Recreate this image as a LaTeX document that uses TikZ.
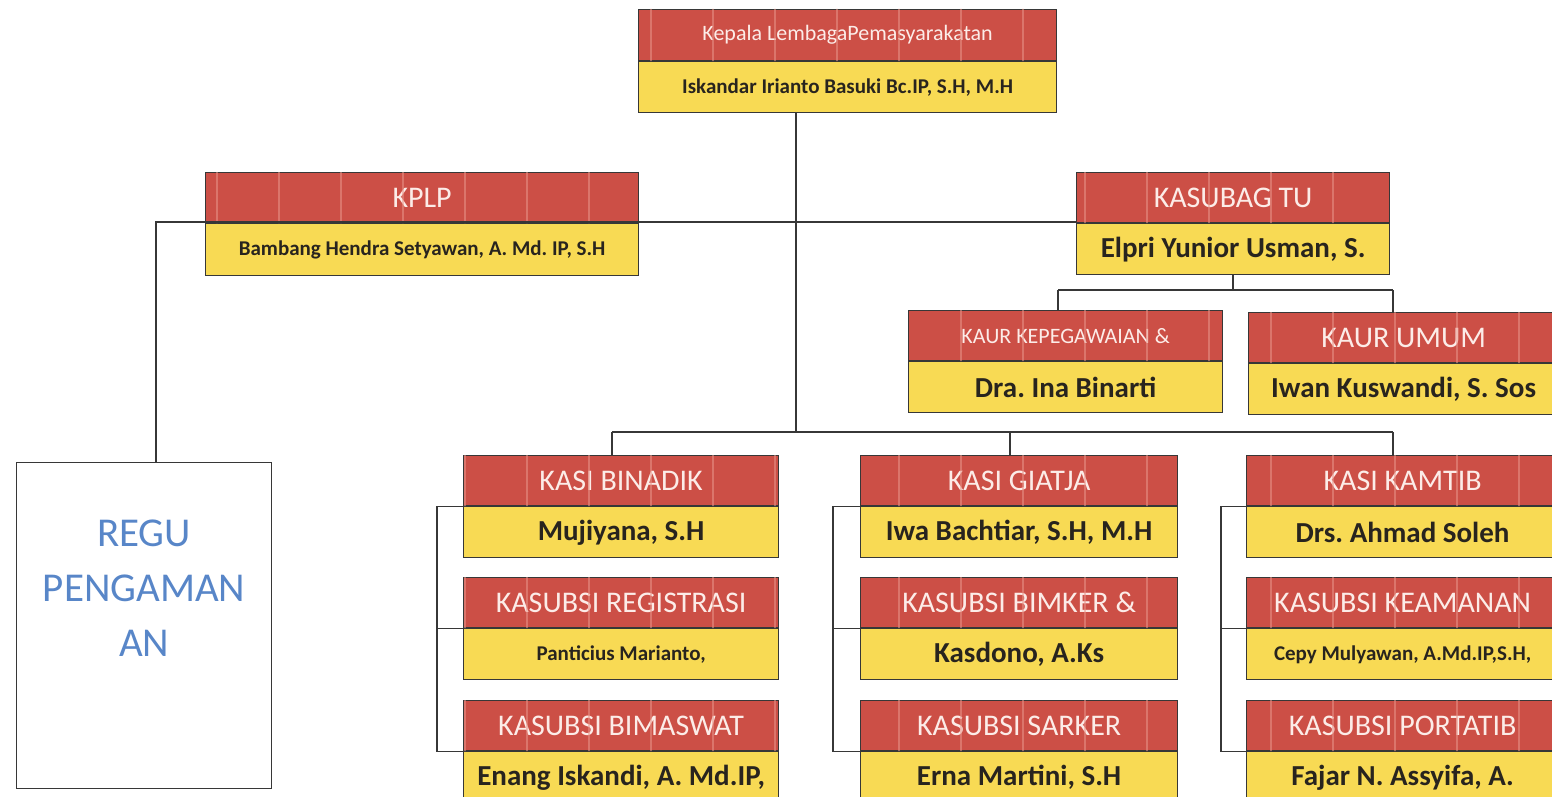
\documentclass[tikz,border=0pt]{standalone}
\usepackage{fontspec}
\setmainfont{Carlito}
\usepackage{tikz}
\frenchspacing

\definecolor{hdrred}{RGB}{204,79,70}
\definecolor{nmyellow}{RGB}{248,218,84}
\definecolor{hdrtext}{RGB}{252,236,232}
\definecolor{nmtext}{RGB}{40,36,30}
\definecolor{linegray}{RGB}{55,55,55}
\definecolor{stripecol}{RGB}{232,150,138}
\definecolor{regublue}{RGB}{88,134,200}

\tikzset{
  hdr/.style={draw=linegray, line width=1.2pt, fill=hdrred, text=hdrtext, anchor=north west,
    minimum height=50pt, inner sep=0pt, font=\fontsize{30}{32}\selectfont},
  hdrsmall/.style={hdr, font=\fontsize{22}{24}\selectfont},
  nm/.style={draw=linegray, line width=1.2pt, fill=nmyellow, text=nmtext, anchor=north west,
    minimum height=51pt, inner sep=0pt, font=\bfseries\fontsize{29}{31}\selectfont},
  nmsmall/.style={nm, font=\bfseries\fontsize{21}{23}\selectfont},
  link/.style={draw=linegray, line width=1.3pt},
}

\begin{document}
\begin{tikzpicture}[x=1pt, y=-1pt]

\useasboundingbox (0,0) rectangle (1552,797);
\clip (0,0) rectangle (1552,797);

%% Kepala Lapas

\node[hdrsmall, minimum width=418pt, minimum height=51pt] (kalapas-h) at (638,9) {Kepala LembagaPemasyarakatan};
\node[nmsmall, minimum width=418pt] (kalapas-n) at (kalapas-h.south west) {Iskandar Irianto Basuki Bc.IP, S.H, M.H};

%% KPLP

\node[hdr, minimum width=433pt] (kplp-h) at (205,172) {KPLP};
\node[nmsmall, minimum width=433pt, minimum height=52pt] (kplp-n) at (kplp-h.south west) {Bambang Hendra Setyawan, A. Md. IP, S.H};

\node[draw=linegray, line width=1.2pt, anchor=north west, minimum width=255pt, minimum height=326pt] (regu) at (16,462) {};
\node[text=regublue, align=center, font=\fontsize{41}{55}\selectfont] (regu-txt) at ([yshift=37pt]regu.center) {REGU\\PENGAMAN\\AN};

%% Kasubag TU

\node[hdr, minimum width=313pt] (kasubag-h) at (1076,172) {KASUBAG TU};
\node[nm, minimum width=313pt] (kasubag-n) at (kasubag-h.south west) {Elpri Yunior Usman, S.};

\node[hdrsmall, minimum width=314pt] (kaurkep-h) at (908,310) {KAUR KEPEGAWAIAN \&};
\node[nm, minimum width=314pt] (kaurkep-n) at (kaurkep-h.south west) {Dra. Ina Binarti};

\node[hdr, minimum width=310pt] (kaurumum-h) at (1248,312) {KAUR UMUM};
\node[nm, minimum width=310pt] (kaurumum-n) at (kaurumum-h.south west) {Iwan Kuswandi, S. Sos};

%% Kasi Binadik

\node[hdr, minimum width=315pt] (binadik-h) at (463,455) {KASI BINADIK};
\node[nm, minimum width=315pt] (binadik-n) at (binadik-h.south west) {Mujiyana, S.H};
\node[hdr, minimum width=315pt] (registrasi-h) at (463,577) {KASUBSI REGISTRASI};
\node[nmsmall, minimum width=315pt] (registrasi-n) at (registrasi-h.south west) {Panticius Marianto,};
\node[hdr, minimum width=315pt] (bimaswat-h) at (463,700) {KASUBSI BIMASWAT};
\node[nm, minimum width=315pt] (bimaswat-n) at (bimaswat-h.south west) {Enang Iskandi, A. Md.IP,};

%% Kasi Giatja

\node[hdr, minimum width=317pt] (giatja-h) at (860,455) {KASI GIATJA};
\node[nm, minimum width=317pt] (giatja-n) at (giatja-h.south west) {Iwa Bachtiar, S.H, M.H};
\node[hdr, minimum width=317pt] (bimker-h) at (860,577) {KASUBSI BIMKER \&};
\node[nm, minimum width=317pt] (bimker-n) at (bimker-h.south west) {Kasdono, A.Ks};
\node[hdr, minimum width=317pt] (sarker-h) at (860,700) {KASUBSI SARKER};
\node[nm, minimum width=317pt] (sarker-n) at (sarker-h.south west) {Erna Martini, S.H};

%% Kasi Kamtib

\node[hdr, minimum width=312pt] (kamtib-h) at (1246,455) {KASI KAMTIB};
\node[nm, minimum width=312pt] (kamtib-n) at (kamtib-h.south west) {Drs. Ahmad Soleh};
\node[hdr, minimum width=312pt] (keamanan-h) at (1246,577) {KASUBSI KEAMANAN};
\node[nmsmall, minimum width=312pt] (keamanan-n) at (keamanan-h.south west) {Cepy Mulyawan, A.Md.IP,S.H,};
\node[hdr, minimum width=312pt] (portatib-h) at (1246,700) {KASUBSI PORTATIB};
\node[nm, minimum width=312pt] (portatib-n) at (portatib-h.south west) {Fajar N. Assyifa, A.};

%% Stripes in the red bands

\begin{scope}
\clip (kalapas-h.north west) rectangle (kalapas-h.south east)
      (kplp-h.north west) rectangle (kplp-h.south east)
      (kasubag-h.north west) rectangle (kasubag-h.south east)
      (kaurkep-h.north west) rectangle (kaurkep-h.south east)
      (kaurumum-h.north west) rectangle (kaurumum-h.south east)
      (binadik-h.north west) rectangle (binadik-h.south east)
      (registrasi-h.north west) rectangle (registrasi-h.south east)
      (bimaswat-h.north west) rectangle (bimaswat-h.south east)
      (giatja-h.north west) rectangle (giatja-h.south east)
      (bimker-h.north west) rectangle (bimker-h.south east)
      (sarker-h.north west) rectangle (sarker-h.south east)
      (kamtib-h.north west) rectangle (kamtib-h.south east)
      (keamanan-h.north west) rectangle (keamanan-h.south east)
      (portatib-h.north west) rectangle (portatib-h.south east);
\foreach \k in {-3,...,22}{
	\draw[stripecol, line width=1.6pt, opacity=0.55] ({217+62*\k},2) -- ({217+62*\k},795);
}
\end{scope}

%% Lines

\coordinate (trunk) at (796,432);
\coordinate (tuleft) at (156,222);
\coordinate (kaurL) at (1058,290);
\coordinate (kaurR) at (1393,290);
\coordinate (colA) at (612,432);
\coordinate (colB) at (1010,432);
\coordinate (colC) at (1393,432);

\draw[link] (kalapas-n.south -| trunk) -- (trunk);
\draw[link] (tuleft -| kasubag-h.west) -- (tuleft) -- (tuleft |- regu.north);

\draw[link] (kasubag-n.south) -- (kasubag-n.south |- kaurL);
\draw[link] (kaurL) -- (kaurR);
\draw[link] (kaurL) -- (kaurL |- kaurkep-h.north);
\draw[link] (kaurR) -- (kaurR |- kaurumum-h.north);

\draw[link] (colA) -- (colC);
\draw[link] (colA) -- (colA |- binadik-h.north);
\draw[link] (colB) -- (colB |- giatja-h.north);
\draw[link] (colC) -- (colC |- kamtib-h.north);

\draw[link] (binadik-h.south west) -- ++(-26,0) |- (bimaswat-h.south west);
\draw[link] (registrasi-h.south west) -- ++(-26,0);

\draw[link] (giatja-h.south west) -- ++(-27,0) |- (sarker-h.south west);
\draw[link] (bimker-h.south west) -- ++(-27,0);

\draw[link] (kamtib-h.south west) -- ++(-25,0) |- (portatib-h.south west);
\draw[link] (keamanan-h.south west) -- ++(-25,0);

\end{tikzpicture}
\end{document}
